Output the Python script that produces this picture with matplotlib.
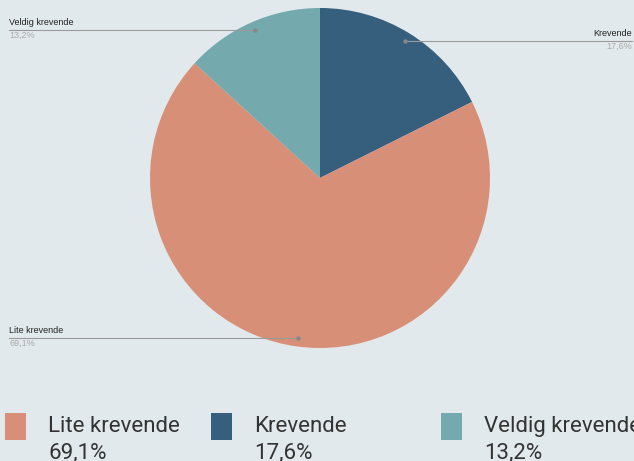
import numpy as np
import matplotlib

matplotlib.use("Agg")
import matplotlib.pyplot as plt
from matplotlib.lines import Line2D

categories = ["Krevende", "Lite krevende", "Veldig krevende"]
shares = [17.6, 69.1, 13.2]
share_labels = ["17,6%", "69,1%", "13,2%"]
colors = ["#365E7D", "#D79077", "#74A9AD"]

legend_order = ["Lite krevende", "Krevende", "Veldig krevende"]

BG = "#E2E9EC"
W, H = 634, 461

fig = plt.figure(figsize=(W / 100, H / 100), dpi=100, facecolor=BG)

# pie centre (320, 178) px, radius 170 px
cx, cy, r = 320, 178, 170
ax = fig.add_axes([(cx - r) / W, (H - cy - r) / H, 2 * r / W, 2 * r / H])
ax.set_facecolor(BG)
ax.pie(shares, colors=colors, startangle=90, counterclock=False, radius=1,
       wedgeprops=dict(linewidth=0))
ax.set_xlim(-1, 1)
ax.set_ylim(-1, 1)
ax.set_aspect("equal")
ax.axis("off")

# leader lines with labels
total = sum(shares)
start = 0.0
for cat, val, lab in zip(categories, shares, share_labels):
    mid = (start + val / 2) / total * 2 * np.pi
    start += val
    dx, dy = np.sin(mid) * 0.95, np.cos(mid) * 0.95
    px = (cx + dx * r) / W
    py = (H - cy + dy * r) / H
    right = dx > 0.3
    xe = 632 / W if right else 9 / W
    fig.add_artist(Line2D([px, xe], [py, py], color="#9a9a9a", lw=0.8))
    fig.add_artist(Line2D([px], [py], marker="o", ms=2.2, color="#888888", lw=0))
    ha = "right" if right else "left"
    fig.text(xe, py + 3 / H, cat, ha=ha, va="bottom", fontsize=6.5,
             family="Liberation Sans", color="#222222")
    fig.text(xe, py - 1 / H, lab, ha=ha, va="top", fontsize=6.5,
             family="Liberation Sans", color="#aaaaaa")

# bottom legend
leg_x = [5, 211, 441]
for x0, name in zip(leg_x, legend_order):
    i = categories.index(name)
    fig.patches.append(plt.Rectangle((x0 / W, (H - 440) / H), 21 / W, 27 / H,
                                     transform=fig.transFigure, color=colors[i],
                                     lw=0))
    fig.text((x0 + 43) / W, (H - 426) / H, name, ha="left", va="center",
             fontsize=16, family="Roboto", color="#333333")
    fig.text((x0 + 43) / W, (H - 453) / H, share_labels[i], ha="left",
             va="center", fontsize=16, family="Roboto", color="#333333")

fig.savefig("out.png", dpi=100, facecolor=BG)
